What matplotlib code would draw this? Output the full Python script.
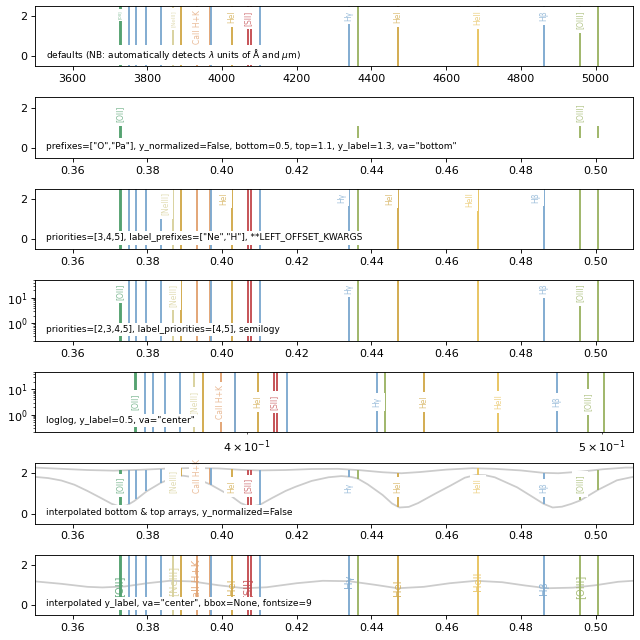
import numpy as np
import matplotlib.pyplot as plt
from matplotlib.colors import to_rgba

# emission / absorption lines, wavelengths in Angstrom
wave = [3726.0, 3728.8, 3750.2, 3770.6, 3797.9, 3835.4, 3868.8, 3889.0, 3933.7, 3968.5,
        3970.1, 4026.2, 4068.6, 4076.3, 4101.7, 4340.5, 4363.2, 4471.5, 4685.7, 4861.3,
        4958.9, 5006.8]
species = ['OII', 'OII', 'H', 'H', 'H', 'H', 'NeIII', 'HeI', 'CaII', 'CaII',
           'H', 'HeI', 'SII', 'SII', 'H', 'H', 'OIII', 'HeI', 'HeII', 'H',
           'OIII', 'OIII']
labels = ['[OII]', '', '', '', '', '', '[NeIII]', '', 'CaII H+K', '',
          '', 'HeI', '[SII]', '', '', 'Hγ', '', 'HeI', 'HeII', 'Hβ',
          '[OIII]', '']
priority = [5, 5, 3, 3, 3, 3, 4, 3, 3, 3,
            3, 3, 3, 3, 3, 4, 3, 3, 3, 5,
            5, 5]

colors = {'OII': '#55a271', 'H': '#7eaad0', 'NeIII': '#d8d19c', 'HeI': '#d2aa4c',
          'CaII': '#e2a373', 'SII': '#c44e52', 'OIII': '#9db466', 'HeII': '#e8c35f'}

# bottom / top arrays for panel 6 (micron)
curve_x = [0.350, 0.3535, 0.357, 0.3605, 0.364, 0.3675, 0.3705, 0.3726, 0.3745, 0.3765,
           0.3798, 0.3835, 0.3865, 0.3895, 0.3925, 0.397, 0.400, 0.4026, 0.405, 0.4075,
           0.4102, 0.4135, 0.417, 0.4197, 0.424, 0.4285, 0.432, 0.4345, 0.4363, 0.439,
           0.443, 0.4455, 0.4475, 0.450, 0.4525, 0.457, 0.4613, 0.465, 0.468, 0.4705,
           0.473, 0.479, 0.483, 0.4861, 0.4885, 0.491, 0.4935, 0.4959, 0.5007, 0.5057,
           0.510]
bottom_y = [1.82, 1.76, 1.64, 1.43, 1.12, 0.78, 0.48, 0.35, 0.40, 0.62,
            1.10, 1.51, 1.76, 1.88, 1.80, 1.43, 1.12, 0.85, 0.52, 0.33,
            0.44, 0.78, 1.12, 1.33, 1.62, 1.80, 1.86, 1.82, 1.74, 1.45,
            0.92, 0.50, 0.30, 0.33, 0.52, 0.98, 1.40, 1.78, 1.92, 1.90,
            1.80, 1.30, 0.84, 0.48, 0.30, 0.34, 0.48, 0.65, 1.18, 1.65,
            1.82]
top_x = [0.350, 0.357, 0.364, 0.371, 0.378, 0.385, 0.392, 0.399, 0.405, 0.410,
         0.417, 0.424, 0.431, 0.437, 0.443, 0.448, 0.453, 0.460, 0.467, 0.473,
         0.480, 0.486, 0.490, 0.496, 0.502, 0.508, 0.510]
top_y = [2.28, 2.22, 2.16, 2.13, 2.17, 2.23, 2.26, 2.24, 2.17, 2.14,
         2.16, 2.21, 2.22, 2.15, 2.05, 2.00, 2.06, 2.18, 2.25, 2.22,
         2.14, 2.02, 2.00, 2.08, 2.20, 2.28, 2.28]

# y_label curve for panel 7
ylab_x = [0.350, 0.357, 0.364, 0.368, 0.374, 0.380, 0.386, 0.392, 0.399, 0.406,
          0.412, 0.420, 0.427, 0.434, 0.441, 0.447, 0.454, 0.461, 0.468, 0.475,
          0.481, 0.487, 0.494, 0.500, 0.506, 0.510]
ylab_y = [1.17, 1.05, 0.90, 0.87, 0.92, 1.08, 1.20, 1.17, 0.98, 0.83,
          0.88, 1.08, 1.20, 1.18, 1.00, 0.83, 0.90, 1.08, 1.20, 1.13,
          0.97, 0.83, 0.86, 0.98, 1.15, 1.20]

wave = np.array(wave)
wave_um = wave / 1e4
LW = 1.7
LABEL_FS = 6.9
PAD = 0.45


def line_color(i):
    return colors[species[i]]


def add_label(ax, x, y, text, color, fs=LABEL_FS, va='top', ha='center',
              dx=0, dy=0, bbox=True, xycoords='data', alpha=0.75):
    kw = dict(rotation=90, fontsize=fs, color=to_rgba(color, alpha), ha=ha, va=va, zorder=2.3)
    if bbox:
        kw['bbox'] = dict(boxstyle='square,pad=%g' % PAD, fc='white', ec='none')
    ax.annotate(text, (x, y), xycoords=xycoords, xytext=(dx, dy),
                textcoords='offset points', annotation_clip=False, **kw)


def add_desc(ax, text):
    ax.text(0.018, 0.19, text, transform=ax.transAxes, fontsize=8.1, ha='left',
            va='center', zorder=2.4, bbox=dict(boxstyle='square,pad=0.25', fc='white', ec='none'))


fig, axes = plt.subplots(7, 1, figsize=(8, 8), dpi=80)
fig.subplots_adjust(left=0.055, right=0.989, top=0.9906, bottom=0.039, hspace=0.513)
idx = range(len(wave))

# 1) defaults, Angstrom
ax = axes[0]
tr = ax.get_xaxis_transform()
for i in idx:
    ax.vlines(wave[i], 0, 1, transform=tr, color=line_color(i), lw=LW, zorder=2)
small = {'[OII]': 3.6, '[NeIII]': 5.0}
for i in idx:
    if labels[i]:
        add_label(ax, wave[i], 1, labels[i], line_color(i), fs=small.get(labels[i], LABEL_FS),
                  dy=-4, xycoords=tr)
ax.set_xlim(3500, 5100)
ax.set_ylim(-0.5, 2.5)
add_desc(ax, r'defaults (NB: automatically detects $\lambda$ units of Å and $\mu$m)')

# 2) prefixes O / Pa, absolute bottom/top
ax = axes[1]
sel = [i for i in idx if species[i].startswith('O') or species[i].startswith('Pa')]
for i in sel:
    ax.vlines(wave_um[i], 0.5, 1.1, color=line_color(i), lw=LW, zorder=2)
    if labels[i]:
        add_label(ax, wave_um[i], 1.3, labels[i], line_color(i), va='bottom')
ax.set_ylim(-0.5, 2.5)
add_desc(ax, 'prefixes=["O","Pa"], y_normalized=False, bottom=0.5, top=1.1, y_label=1.3, va="bottom"')

# 3) priorities 3-5, labels for Ne / H only, offset to the left
ax = axes[2]
tr = ax.get_xaxis_transform()
sel = [i for i in idx if priority[i] in (3, 4, 5)]
for i in sel:
    ax.vlines(wave_um[i], 0, 1, transform=tr, color=line_color(i), lw=LW, zorder=2)
    if labels[i] and (species[i].startswith('Ne') or species[i].startswith('H')):
        add_label(ax, wave_um[i], 1, labels[i], line_color(i), ha='right',
                  dx=-PAD * LABEL_FS, dy=-PAD * LABEL_FS, xycoords=tr)
ax.set_ylim(-0.5, 2.5)
add_desc(ax, 'priorities=[3,4,5], label_prefixes=["Ne","H"], **LEFT_OFFSET_KWARGS')

# 4) semilogy
ax = axes[3]
ax.set_yscale('log')
tr = ax.get_xaxis_transform()
sel = [i for i in idx if priority[i] in (2, 3, 4, 5)]
for i in sel:
    ax.vlines(wave_um[i], 0, 1, transform=tr, color=line_color(i), lw=LW, zorder=2)
    if labels[i] and priority[i] in (4, 5):
        add_label(ax, wave_um[i], 1, labels[i], line_color(i), dy=-3, xycoords=tr)
ax.set_ylim(0.2, 50)
add_desc(ax, 'priorities=[2,3,4,5], label_priorities=[4,5], semilogy')

# 5) loglog
ax = axes[4]
ax.set_xscale('log')
ax.set_yscale('log')
tr = ax.get_xaxis_transform()
for i in idx:
    ax.vlines(wave_um[i], 0, 1, transform=tr, color=line_color(i), lw=LW, zorder=2)
    if labels[i]:
        add_label(ax, wave_um[i], 0.5, labels[i], line_color(i), va='center', xycoords=tr)
ax.set_ylim(0.2, 50)
add_desc(ax, 'loglog, y_label=0.5, va="center"')

# 6) interpolated bottom & top arrays
ax = axes[5]
ax.plot(curve_x, bottom_y, color='#cccccc', lw=1.6, zorder=1)
ax.plot(top_x, top_y, color='#cccccc', lw=1.6, zorder=1)
lo = np.interp(wave_um, curve_x, bottom_y)
hi = np.interp(wave_um, top_x, top_y)
for i in idx:
    ax.vlines(wave_um[i], lo[i], hi[i], color=line_color(i), lw=LW, zorder=2)
    if labels[i]:
        add_label(ax, wave_um[i], 1.0, labels[i], line_color(i), va='bottom')
ax.set_ylim(-0.5, 2.5)
add_desc(ax, 'interpolated bottom & top arrays, y_normalized=False')

# 7) interpolated y_label, no bbox
ax = axes[6]
tr = ax.get_xaxis_transform()
ax.plot(ylab_x, ylab_y, color='#cccccc', lw=1.6, zorder=1)
yl = np.interp(wave_um, ylab_x, ylab_y)
for i in idx:
    ax.vlines(wave_um[i], 0, 1, transform=tr, color=line_color(i), lw=LW, zorder=2)
    if labels[i]:
        add_label(ax, wave_um[i], yl[i], labels[i], line_color(i), fs=9, va='center',
                  bbox=False, alpha=0.85)
ax.set_ylim(-0.5, 2.5)
add_desc(ax, 'interpolated y_label, va="center", bbox=None, fontsize=9')

for k, ax in enumerate(axes):
    if k > 0:
        ax.set_xlim(0.35, 0.51)
    if k not in (3, 4):
        ax.set_yticks([0, 2])

fig.savefig('out.png', dpi=80)
